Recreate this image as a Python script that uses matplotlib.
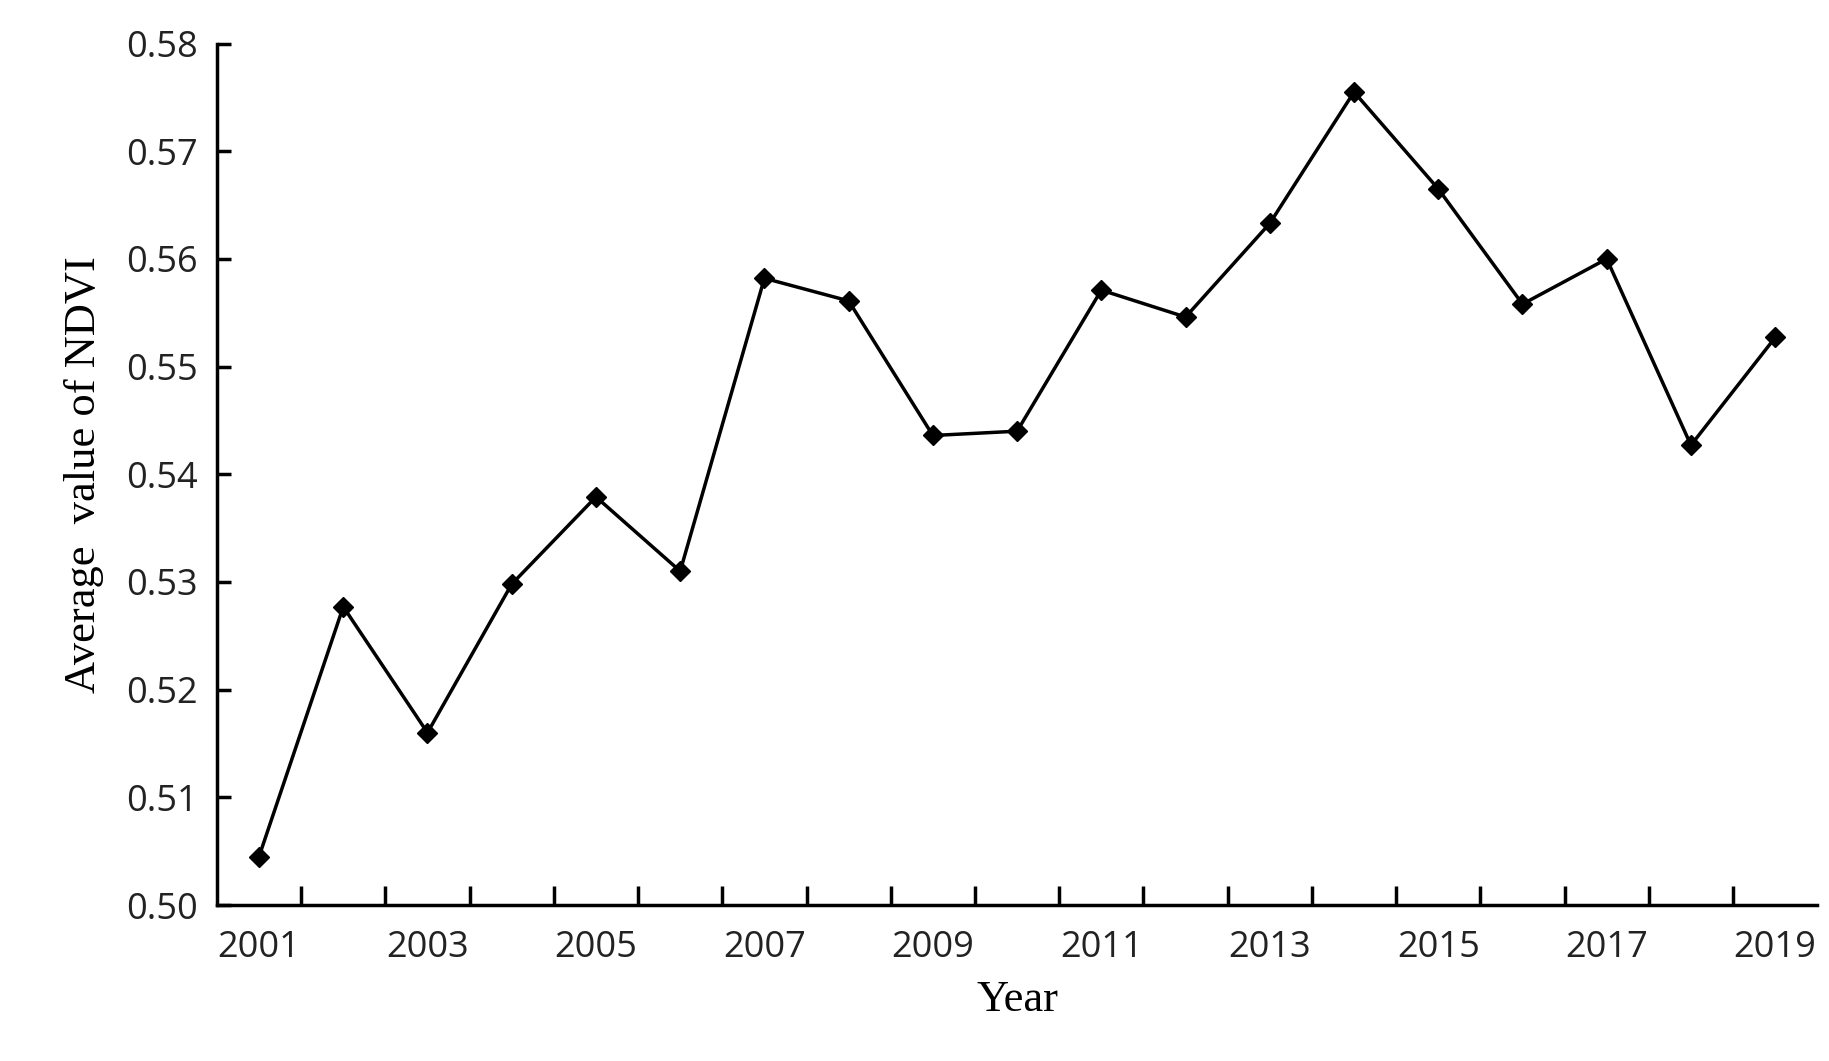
import matplotlib; matplotlib.use('Agg')
import matplotlib.pyplot as plt
import numpy as np

years = list(range(2001, 2020))
ndvi = [0.5045, 0.5277, 0.5160, 0.5298, 0.5379, 0.5310, 0.5582, 0.5561, 0.5436, 0.5440,
        0.5571, 0.5546, 0.5633, 0.5755, 0.5665, 0.5558, 0.5600, 0.5427, 0.5527]
year_labels = [str(y) if (y - 2001) % 2 == 0 else '' for y in years]

fig = plt.figure(figsize=(18.29, 10.61), dpi=100)
ax = fig.add_axes([0.1186, 0.147, 0.875, 0.812])
x = np.arange(len(years))
ax.plot(x, ndvi, color='black', lw=2.5, marker='D', ms=10, mfc='black', mec='black')

ax.set_xlim(-0.5, len(years) - 0.5)
ax.set_ylim(0.50, 0.58)
ax.set_yticks(np.arange(0.50, 0.581, 0.01))
ax.set_yticklabels([f'{v:.2f}' for v in np.arange(0.50, 0.581, 0.01)])
ax.set_xticks(x)
ax.set_xticklabels(year_labels)
ax.set_xticks(np.arange(0.5, len(years) - 1, 1), minor=True)
ax.tick_params(axis='x', which='major', length=0, pad=18, labelsize=26)
ax.tick_params(axis='x', which='minor', direction='in', length=14, width=2.5)
ax.tick_params(axis='y', direction='in', length=10, width=2.5, labelsize=26, pad=14)
for lbl in ax.get_xticklabels() + ax.get_yticklabels():
    lbl.set_family('Open Sans')
    lbl.set_color('#222222')

for s in ['top', 'right']:
    ax.spines[s].set_visible(False)
for s in ['left', 'bottom']:
    ax.spines[s].set_linewidth(2.5)

ax.set_xlabel('Year', fontsize=32, family='Liberation Serif', labelpad=10)
ax.set_ylabel('Average  value of NDVI', fontsize=32, family='Liberation Serif', labelpad=16)

plt.savefig('out.png')
plt.close()
